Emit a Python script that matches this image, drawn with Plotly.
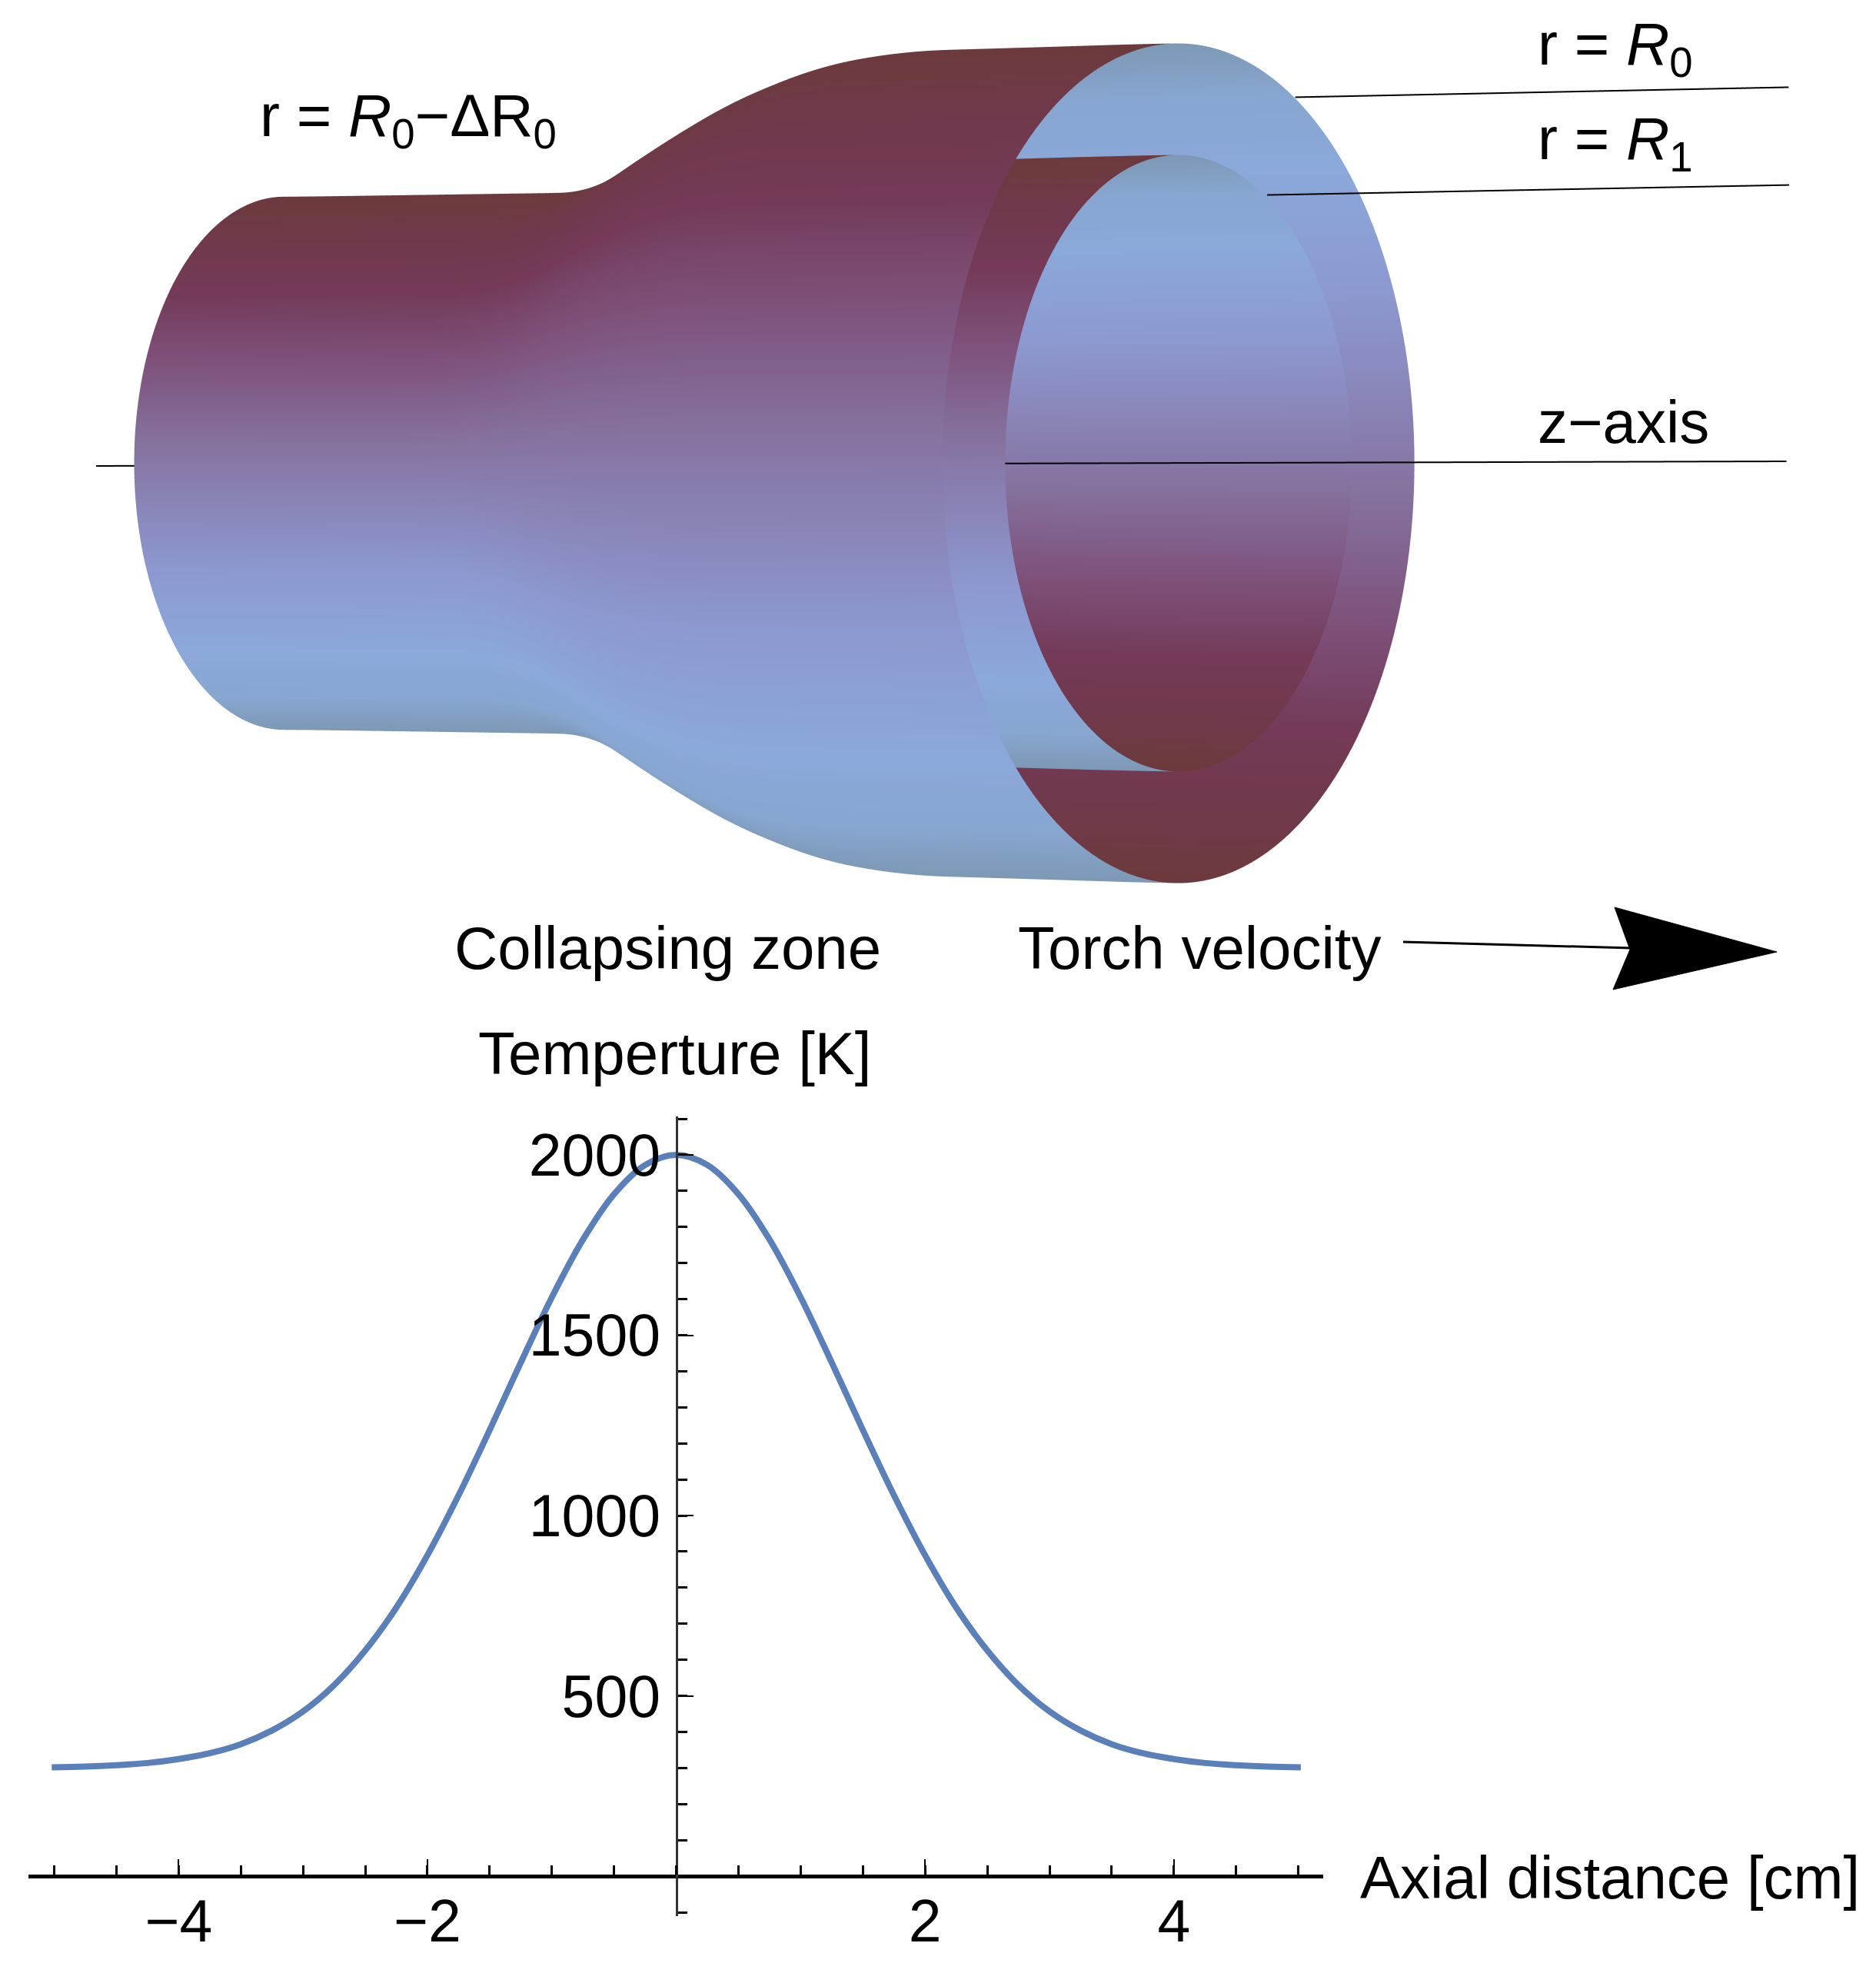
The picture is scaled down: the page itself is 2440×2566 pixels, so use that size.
import numpy as np
import plotly.graph_objects as go

WIDTH = 2440
HEIGHT = 2566

# temperature profile
axial_cm = [-5.02, -4.75, -4.5, -4.25, -4, -3.75, -3.5, -3.25, -3, -2.75, -2.5, -2.25, -2, -1.75, -1.5,
            -1.25, -1, -0.75, -0.5, -0.25, 0, 0.25, 0.5, 0.75, 1, 1.25, 1.5, 1.75, 2, 2.25, 2.5,
            2.75, 3, 3.25, 3.5, 3.75, 4, 4.25, 4.5, 4.75, 5.02]
temperature_k = [302, 304, 308, 314, 325, 341, 366, 404, 457, 530, 626, 745, 890, 1056, 1237,
                 1424, 1605, 1765, 1891, 1972, 2000, 1972, 1891, 1765, 1605, 1424, 1237, 1056, 890, 745, 626,
                 530, 457, 404, 366, 341, 325, 314, 308, 304, 302]
x_tick_vals = [-4, -2, 2, 4]
x_tick_text = ["\u22124", "\u22122", "2", "4"]
y_tick_vals = [500, 1000, 1500, 2000]

# tube geometry (position along axis, radii)
tube_axial = [0, 500, 530, 630, 730, 850, 960, 1170, 1405]
outer_radius = [346, 352, 355, 406, 460, 510, 535, 540, 546]
inner_radius = [250, 255, 258, 295, 335, 370, 390, 396, 401]

# fraction of height on the tube -> colour
shade_stops = [0, 0.06, 0.15, 0.3, 0.45, 0.55, 0.7, 0.82, 0.92, 1]
shade_colors = ["#7d99b6", "#87a6d0", "#8ba8da", "#8c98cf", "#8980b2",
                "#85709c", "#7d4f78", "#743a58", "#70394a", "#6c3a3c"]

VIEW_COS = 0.562
VIEW_SIN = 0.827
EYE_DIST = 1.5
DEPTH_SQUASH = 0.25
BOX_CENTER = 1037
ZOOM = 1.684


def px(x):
    # page sits 8px in from the left and top
    return (x - 8) / WIDTH


def py(y):
    return 1 - (y - 8) / HEIGHT


def squash(x, y, z):
    # flatten along the line of sight so the near clip plane stays clear,
    # the orthographic picture does not change
    x, y = np.asarray(x, dtype=float), np.asarray(y, dtype=float)
    depth = (x - BOX_CENTER) * VIEW_COS - y * VIEW_SIN
    k = DEPTH_SQUASH - 1
    return x + k * depth * VIEW_COS, y - k * depth * VIEW_SIN, z


def shell(radii):
    xs = np.linspace(tube_axial[0], tube_axial[-1], 320)
    rs = np.interp(xs, tube_axial, radii)
    # round off the corners of the profile
    kernel = np.ones(41) / 41
    rs = np.convolve(np.pad(rs, 20, mode="edge"), kernel, mode="valid")
    slope = np.gradient(rs, xs)
    phi = np.linspace(-np.pi, np.pi, 361)
    X, P = np.meshgrid(xs, phi, indexing="ij")
    R = rs[:, None] * np.ones_like(P)
    Y = R * np.cos(P)
    Z = R * np.sin(P)
    # outside faces go dark on top, inside faces the other way round
    facing = -slope[:, None] * VIEW_COS - np.cos(P) * VIEW_SIN > 0
    height = (np.sin(P) + 1) / 2
    shade = np.where(facing, height, 1 - height)
    X, Y, Z = squash(X, Y, Z)
    return go.Surface(
        x=X, y=Y, z=Z, surfacecolor=shade, cmin=0, cmax=1,
        colorscale=[[s, c] for s, c in zip(shade_stops, shade_colors)],
        showscale=False, hoverinfo="skip",
        lighting=dict(ambient=1, diffuse=0, specular=0, roughness=1, fresnel=0),
    )


def line3d(xs, ys, zs):
    xs, ys, zs = squash(xs, ys, zs)
    return go.Scatter3d(x=xs, y=ys, z=zs, mode="lines", line=dict(color="black", width=4),
                        showlegend=False, hoverinfo="skip")


fig = go.Figure()
fig.add_trace(shell(outer_radius))
fig.add_trace(shell(inner_radius))

L = tube_axial[-1]
fig.add_trace(line3d([-295, 2360], [0, 0], [-3.5, 2.5]))
fig.add_trace(line3d([L, L + 775], [270, 270], [475.5, 488.5]))
fig.add_trace(line3d([L, L + 820], [205, 205], [348.5, 361.5]))

fig.add_trace(go.Scatter(
    x=axial_cm, y=temperature_k, mode="lines",
    line=dict(color="#5b7fb8", width=8, shape="spline"),
    showlegend=False, hoverinfo="skip",
))

labels = [
    ("r = <i>R</i><sub>0</sub>\u2212\u0394R<sub>0</sub>", 336, 155),
    ("r = <i>R</i><sub>0</sub>", 1998, 63),
    ("r = <i>R</i><sub>1</sub>", 1998, 186),
    ("z\u2212axis", 1998, 549),
    ("Collapsing zone", 589, 1233),
    ("Torch velocity", 1322, 1233),
    ("Temperture [K]", 620, 1370),
    ("Axial distance [cm]", 1767, 2442),
]
annotations = [
    dict(text=t, x=px(x), y=py(y), xref="paper", yref="paper", xanchor="left", yanchor="middle",
         showarrow=False, font=dict(family="Liberation Sans", size=78, color="black"))
    for t, x, y in labels
]

arrow_path = "M {} {} L {} {} L {} {} L {} {} Z".format(
    px(2100), py(1180), px(2311), py(1238), px(2098), py(1287), px(2120), py(1235))

fig.update_layout(
    width=WIDTH,
    height=HEIGHT,
    margin=dict(l=0, r=0, t=0, b=0),
    paper_bgcolor="white",
    plot_bgcolor="white",
    font=dict(family="Liberation Sans", size=78, color="black"),
    annotations=annotations,
    shapes=[
        dict(type="line", xref="paper", yref="paper", x0=px(1825), y0=py(1225), x1=px(2122), y1=py(1233),
             line=dict(color="black", width=3)),
        dict(type="path", xref="paper", yref="paper", path=arrow_path, fillcolor="black",
             line=dict(color="black", width=1)),
    ],
    scene=dict(
        domain=dict(x=[0, 1], y=[py(1197), 1]),
        xaxis=dict(visible=False, range=[BOX_CENTER - 1450, BOX_CENTER + 1450]),
        yaxis=dict(visible=False, range=[-700, 700]),
        zaxis=dict(visible=False, range=[-700, 700]),
        aspectmode="manual",
        aspectratio=dict(x=2.9 * ZOOM, y=1.4 * ZOOM, z=1.4 * ZOOM),
        camera=dict(
            projection=dict(type="orthographic"),
            eye=dict(x=VIEW_COS * EYE_DIST, y=-VIEW_SIN * EYE_DIST, z=0),
            up=dict(x=0, y=0, z=1),
            center=dict(x=0, y=0, z=0),
        ),
    ),
    xaxis=dict(
        domain=[px(37), px(1721)], range=[-5.207, 5.2], anchor="free", position=py(2440),
        showgrid=False, zeroline=False, showline=True, linecolor="black", linewidth=5,
        tickmode="array", tickvals=x_tick_vals, ticktext=x_tick_text,
        ticks="inside", ticklen=20, tickwidth=2, tickcolor="black",
        ticklabelstandoff=-10,
        tickfont=dict(family="Liberation Sans", size=77, color="black"),
        minor=dict(tickmode="linear", tick0=0, dtick=0.5, ticks="inside", ticklen=12, tickwidth=3, tickcolor="black"),
    ),
    yaxis=dict(
        domain=[py(2492), py(1452)], range=[-110.5, 2106.5], anchor="free", position=px(879.5),
        showgrid=False, zeroline=False, showline=True, linecolor="#333333", linewidth=3,
        tickmode="array", tickvals=y_tick_vals,
        ticks="inside", ticklen=20, tickwidth=2, tickcolor="black",
        ticklabelstandoff=4,
        tickfont=dict(family="Liberation Sans", size=77, color="black"),
        minor=dict(tickmode="linear", tick0=0, dtick=100, ticks="inside", ticklen=12, tickwidth=3, tickcolor="black"),
    ),
)

fig.write_html("out.html")
